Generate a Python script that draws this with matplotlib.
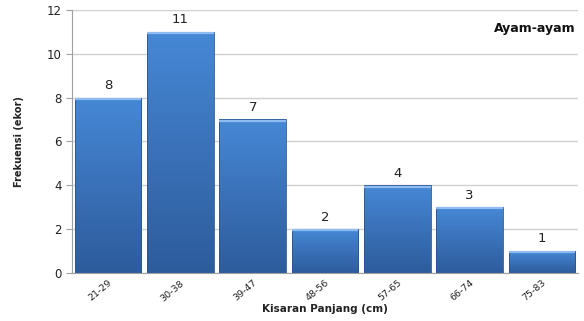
import numpy as np
import matplotlib
matplotlib.use("Agg")
import matplotlib.pyplot as plt
from matplotlib.colors import LinearSegmentedColormap

categories = ["21-29", "30-38", "39-47", "48-56", "57-65", "66-74", "75-83"]
frequencies = [8, 11, 7, 2, 4, 3, 1]
y_ticks = [0, 2, 4, 6, 8, 10, 12]

plt.rcParams['font.family'] = ['DejaVu Sans']

fig = plt.figure(figsize=(5.84, 3.21), dpi=100)
ax = fig.add_axes([0.123, 0.150, 0.867, 0.819])

ax.yaxis.grid(True, color="#d0d0d0", linewidth=1.0)
ax.set_axisbelow(True)

grad_cmap = LinearSegmentedColormap.from_list("barblue", ["#2d5c9c", "#3a71b8", "#4688d6"])
gradient = np.linspace(0, 1, 256).reshape(-1, 1)

x = np.arange(len(categories))
bars = ax.bar(x, frequencies, width=0.92, color="none", edgecolor="#2a5590", linewidth=0.6, zorder=3)
for rect, val in zip(bars, frequencies):
    x0, w, h = rect.get_x(), rect.get_width(), rect.get_height()
    im = ax.imshow(gradient, cmap=grad_cmap, aspect="auto", origin="lower",
                   extent=[x0, x0 + w, 0, h], zorder=2)
    im.set_clip_path(rect)
    # light highlight along the top edge of the bar
    ax.plot([x0, x0 + w], [h - 0.06, h - 0.06], color="#8fbcf0", linewidth=1.6, zorder=4,
            solid_capstyle="butt")
    ax.text(x0 + w / 2, h + 0.25, str(val), ha="center", va="bottom", fontsize=9.5,
            color="#222222", zorder=5)

ax.set_xlim(-0.5, len(categories) - 0.5)
ax.set_ylim(0, 12)

ax.set_xticks(x)
ax.set_xticklabels(categories, rotation=40, ha="right", rotation_mode="anchor", fontsize=6.8,
                   color="#222222")
ax.set_yticks(y_ticks)
ax.set_yticklabels([str(t) for t in y_ticks], fontsize=8.5, color="#222222")
ax.tick_params(axis="x", length=0, pad=4)
ax.tick_params(axis="y", length=4, color="#a0a0a0", width=0.8)

for side in ["top", "right"]:
    ax.spines[side].set_visible(False)
ax.spines["left"].set_color("#a0a0a0")
ax.spines["bottom"].set_color("#a0a0a0")

ax.set_xlabel("Kisaran Panjang (cm)", fontsize=7.5, fontweight="bold", labelpad=1, color="#222222")
ax.set_ylabel("Frekuensi (ekor)", fontsize=7, fontweight="bold", labelpad=16, color="#222222")

ax.text(0.995, 0.93, "Ayam-ayam", transform=ax.transAxes, ha="right", va="center",
        fontsize=9, fontweight="bold", color="#111111")

fig.savefig("out.png", dpi=100)
